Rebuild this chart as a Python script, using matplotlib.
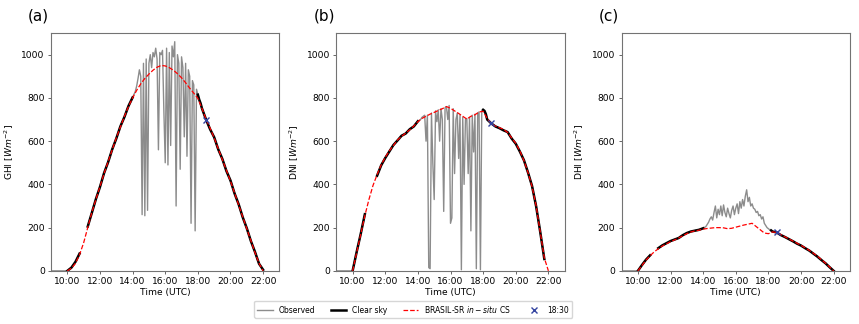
import numpy as np
import matplotlib
matplotlib.use('Agg')
import matplotlib.pyplot as plt
from matplotlib.ticker import FuncFormatter

nan = np.nan

# 15-min grid 9:00 .. 22:15 (54 points)
t15 = np.arange(9 * 60, 22 * 60 + 16, 15) / 60.0
# 5-min grid for the cloudy window 14:10 .. 18:10 (49 points)
t5 = np.arange(14 * 60 + 10, 18 * 60 + 11, 5) / 60.0

# ---- GHI ----
ghi_model = [nan, nan, nan, nan, 0, 12, 35, 75, 130, 200, 270, 330,
             390, 450, 505, 560, 615, 665, 715, 760, 800, 835, 865, 890,
             910, 928, 942, 950, 948, 940, 928, 912, 893, 870, 845, 822,
             798, 752, 702, 660, 615, 565, 515, 465, 415, 360, 305, 250,
             195, 140, 85, 35, 0, nan]
ghi_obs15 = [0, 0, 0, 0, 0, 15, 42, 80, nan, 205, 268, 332,
             388, 452, 503, 562, 612, 668, 712, 763, 802, nan, nan, nan,
             nan, nan, nan, nan, nan, nan, nan, nan, nan, nan, nan, nan,
             nan, 752, 700, 655, 618, 562, 518, 462, 418, 358, 308, 248,
             197, 138, 88, 33, 5, nan]
ghi_obs5 = [830, 855, 890, 930, 900, 260, 960, 255, 980, 280,
            960, 1000, 940, 1010, 990, 1030, 980, 560, 1010, 1000, 1020, 740,
            500, 1030, 490, 1010, 580, 1040, 990, 1060, 300, 1000, 960, 470,
            990, 940, 620, 960, 530, 930, 900, 220, 880, 860, 185, 840,
            815, 792, 775]
ghi_clear = [(10.0, 10.8), (11.2, 14.05), (17.95, 22.05)]

# ---- DNI ----
dni_model = [nan, nan, nan, nan, 0, 85, 170, 255, 330, 395, 445, 490,
             525, 555, 580, 605, 622, 637, 652, 670, 690, 705, 715, 725,
             733, 742, 750, 760, 752, 740, 728, 715, 702, 715, 722, 735,
             738, 705, 680, 670, 662, 655, 640, 615, 590, 555, 510, 455,
             390, 300, 180, 60, 0, nan]
dni_obs15 = [0, 0, 0, 0, 0, 88, 172, 262, nan, nan, 440, 488,
             522, 552, 582, 603, 625, 635, 655, 668, 692, nan, nan, nan,
             nan, nan, nan, nan, nan, nan, nan, nan, nan, nan, nan, nan,
             nan, 700, 682, 668, 660, 650, 642, 612, 588, 552, 512, 455,
             392, 298, 180, 55, nan, nan]
dni_obs5 = [700, 710, 715, 720, 600, 720, 15, 10, 730, 500,
            330, 740, 690, 745, 600, 750, 700, 275, 755, 760, 700, 765,
            220, 245, 750, 450, 700, 730, 520, 720, 5, 710, 400, 700,
            705, 450, 710, 185, 720, 550, 725, 10, 730, 735, 5, 740,
            745, 740, 725]
dni_clear = [(10.0, 10.8), (11.4, 14.05), (17.95, 21.8)]

# ---- DHI ----
dhi_model = [nan, nan, nan, nan, 0, 25, 50, 70, 88, 102, 115, 125,
             135, 143, 152, 162, 172, 180, 185, 188, 193, 196, 198, 200,
             200, 199, 195, 197, 202, 207, 212, 216, 220, 205, 190, 175,
             172, 180, 178, 168, 158, 148, 138, 128, 118, 107, 95, 82,
             68, 52, 36, 18, 0, nan]
dhi_obs15 = [0, 0, 0, 0, 0, 27, 52, 72, nan, 105, 118, 128,
             138, 145, 152, 165, 175, 182, 186, 190, 197, nan, nan, nan,
             nan, nan, nan, nan, nan, nan, nan, nan, nan, nan, nan, nan,
             nan, 182, 178, 166, 157, 147, 137, 126, 117, 105, 94, 80,
             66, 50, 35, 17, 0, nan]
dhi_obs5 = [205, 215, 225, 240, 250, 235, 270, 300, 245, 285,
            260, 300, 255, 305, 270, 250, 290, 265, 245, 280, 300, 260,
            290, 310, 265, 320, 290, 330, 300, 345, 375, 320, 340, 300,
            310, 290, 285, 270, 275, 255, 260, 240, 250, 220, 210, 200,
            195, 190, 187]
dhi_clear = [(10.0, 10.8), (11.2, 14.05), (18.15, 22.05)]

mark_t = 18.5
panels = ['(a)', '(b)', '(c)']
names = ['GHI', 'DNI', 'DHI']


def merge_obs(obs15, obs5):
    obs15 = np.array(obs15, dtype=float)
    out = (t15 < 14.1) | (t15 > 18.15)
    t = np.concatenate([t15[out], t5])
    v = np.concatenate([obs15[out], np.array(obs5, dtype=float)])
    i = np.argsort(t)
    return t[i], v[i]


def hhmm(x, pos):
    h = int(x)
    m = int(round((x - h) * 60))
    return '%02d:%02d' % (h, m)


def mkplt(ax, model, obs15, obs5, clear, name, label):
    t, obs = merge_obs(obs15, obs5)
    flag = np.zeros(len(t), dtype=bool)
    for a, b in clear:
        flag |= (t >= a) & (t <= b)
    cs = np.where(flag, obs, nan)
    ax.plot(t, obs, color='#8c8c8c', lw=1.0, label='Observed', zorder=1)
    ax.plot(t, cs, color='black', lw=1.8, label='Clear sky', zorder=2)
    ax.plot(t15, model, '--', color='red', lw=0.9,
            label=r'BRASIL-SR $in-situ$ CS', zorder=3)
    ok = ~np.isnan(obs)
    ax.plot([mark_t], [np.interp(mark_t, t[ok], obs[ok])], 'x',
            color='#3444a0', ms=5, mew=1.0, label='18:30', zorder=4)
    ax.set_xlim(9, 23)
    ax.set_ylim(0, 1100)
    ax.set_xticks([10, 12, 14, 16, 18, 20, 22])
    ax.set_yticks([0, 200, 400, 600, 800, 1000])
    ax.xaxis.set_major_formatter(FuncFormatter(hhmm))
    ax.tick_params(labelsize=6.6, length=2.5, width=0.6, color='0.3', pad=2)
    for s in ax.spines.values():
        s.set_color('0.45')
        s.set_linewidth(0.8)
    ax.set_xlabel('Time (UTC)', fontsize=6.6, labelpad=1)
    ax.set_ylabel(name + r' [$Wm^{-2}$]', fontsize=6.6, labelpad=4)
    ax.text(-0.1, 1.04, label, transform=ax.transAxes, fontsize=11,
            va='bottom', ha='left')


fig, axs = plt.subplots(1, 3, figsize=(8.59, 3.24), dpi=100)
plt.subplots_adjust(left=0.0594, right=0.9895, bottom=0.164, top=0.898,
                    wspace=0.249)

mkplt(axs[0], ghi_model, ghi_obs15, ghi_obs5, ghi_clear, names[0], panels[0])
mkplt(axs[1], dni_model, dni_obs15, dni_obs5, dni_clear, names[1], panels[1])
mkplt(axs[2], dhi_model, dhi_obs15, dhi_obs5, dhi_clear, names[2], panels[2])

h, l = axs[0].get_legend_handles_labels()
fig.legend(h, l, loc='center', bbox_to_anchor=(0.481, 0.046), ncol=4,
           fontsize=5.5, frameon=True)

plt.savefig('out.png', dpi=100)
